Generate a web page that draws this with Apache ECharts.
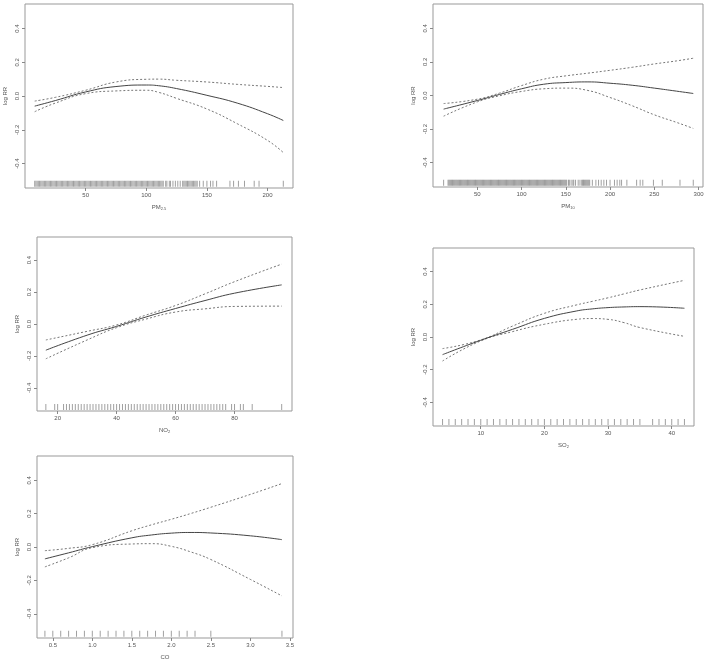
<!DOCTYPE html>
<html>
<head>
<meta charset="utf-8">
<script src="https://cdn.jsdelivr.net/npm/echarts@6/dist/echarts.min.js"></script>
<style>html,body{margin:0;padding:0;background:#fff}#c{width:708px;height:664px}</style>
</head>
<body>
<div id="c"></div>
<script>
// ---- Data ----
const yTicks = [-0.4, -0.2, 0.0, 0.2, 0.4];

const pm25X     = [8, 25, 50, 75, 100, 110, 125, 150, 175, 200, 213];
const pm25Fit   = [-0.060, -0.027, 0.024, 0.056, 0.065, 0.061, 0.044, 0.004, -0.042, -0.105, -0.145];
const pm25Upper = [-0.030, -0.008, 0.034, 0.083, 0.099, 0.100, 0.093, 0.083, 0.069, 0.057, 0.050];
const pm25Lower = [-0.093, -0.042, 0.014, 0.030, 0.034, 0.022, -0.014, -0.077, -0.164, -0.263, -0.335];
const pm25Rug = [8,9,10,11,12,13,14,15,16,17,18,19,20,21,22,23,24,25,26,27,28,29,30,31,32,33,34,35,36,37,38,39,40,
  41,42,43,44,45,46,47,48,49,50,51,52,53,54,55,56,57,58,59,60,61,62,63,64,65,66,67,68,69,70,71,72,73,74,75,
  76,77,78,79,80,81,82,83,84,85,86,87,88,89,90,91,92,93,94,95,96,97,98,99,100,101,102,103,104,105,106,107,
  108,109,110,111,112,113,114,116,117,119,120,122,124,126,128,130,131,132,133,134,135,136,137,138,139,140,
  141,142,144,147,150,153,155,158,169,172,176,181,189,193,213];
const pm25Ticks = [50, 100, 150, 200];

const pm10X     = [12, 50, 75, 100, 125, 150, 175, 200, 225, 250, 275, 294];
const pm10Fit   = [-0.081, -0.030, 0.006, 0.040, 0.067, 0.077, 0.081, 0.073, 0.061, 0.044, 0.026, 0.012];
const pm10Upper = [-0.048, -0.022, 0.014, 0.059, 0.097, 0.117, 0.133, 0.150, 0.168, 0.188, 0.206, 0.222];
const pm10Lower = [-0.123, -0.038, -0.002, 0.024, 0.040, 0.044, 0.030, -0.012, -0.061, -0.115, -0.160, -0.196];
const pm10Rug = [12,17,18,19,20,21,22,23,24,25,26,27,28,29,30,31,32,33,34,35,36,37,38,39,40,41,42,43,44,45,46,
  47,48,49,50,51,52,53,54,55,56,57,58,59,60,61,62,63,64,65,66,67,68,69,70,71,72,73,74,75,76,77,78,79,80,81,
  82,83,84,85,86,87,88,89,90,91,92,93,94,95,96,97,98,99,100,101,102,103,104,105,106,107,108,109,110,111,112,
  113,114,115,116,117,118,119,120,121,122,123,124,125,126,127,128,129,130,131,132,133,134,135,136,137,138,
  139,140,141,142,143,144,145,146,147,148,149,150,151,153,154,156,158,159,161,164,166,168,169,170,171,172,
  173,174,175,176,177,180,184,187,190,193,196,200,205,208,211,213,219,230,234,237,249,259,279,294];
const pm10Ticks = [50, 100, 150, 200, 250, 300];

const no2X     = [16, 30, 40, 50, 60, 70, 80, 96];
const no2Fit   = [-0.164, -0.070, -0.015, 0.044, 0.097, 0.147, 0.193, 0.245];
const no2Upper = [-0.100, -0.046, -0.006, 0.056, 0.116, 0.189, 0.265, 0.375];
const no2Lower = [-0.218, -0.100, -0.023, 0.031, 0.075, 0.095, 0.110, 0.112];
const no2Rug = [16,19,20,22,23,24,25,26,27,28,29,30,31,32,33,34,35,36,37,38,39,40,41,42,43,44,45,46,47,48,49,50,
  51,52,53,54,55,56,57,58,59,60,61,62,63,64,65,66,67,68,69,70,71,72,73,74,75,76,77,79,80,82,83,86,96];
const no2Ticks = [20, 40, 60, 80];

const so2X     = [4, 10, 15, 20, 25, 27.5, 30, 32.5, 35, 42];
const so2Fit   = [-0.108, -0.020, 0.047, 0.114, 0.159, 0.172, 0.180, 0.184, 0.186, 0.176];
const so2Upper = [-0.071, -0.018, 0.067, 0.145, 0.196, 0.218, 0.240, 0.264, 0.288, 0.347];
const so2Lower = [-0.147, -0.024, 0.033, 0.078, 0.108, 0.113, 0.108, 0.088, 0.058, 0.004];
const so2Rug = [4,5,6,7,8,9,10,11,12,13,14,15,16,17,18,19,20,21,22,23,24,25,26,27,28,29,30,31,32,33,34,35,
  37,38,39,40,41,42];
const so2Ticks = [10, 20, 30, 40];

const coX     = [0.4, 0.7, 1.0, 1.5, 1.75, 2.0, 2.25, 2.5, 3.0, 3.4];
const coFit   = [-0.071, -0.035, 0.002, 0.055, 0.072, 0.083, 0.087, 0.084, 0.067, 0.044];
const coUpper = [-0.022, -0.008, 0.014, 0.097, 0.133, 0.166, 0.201, 0.238, 0.315, 0.380];
const coLower = [-0.119, -0.065, -0.004, 0.018, 0.020, 0.004, -0.030, -0.075, -0.194, -0.293];
const coRug = [0.4,0.5,0.6,0.7,0.8,0.9,1.0,1.1,1.2,1.3,1.4,1.5,1.6,1.7,1.8,1.9,2.0,2.1,2.2,2.3,2.5,3.4];
const coTicks = [0.5, 1.0, 1.5, 2.0, 2.5, 3.0, 3.5];

// ---- Layout ----
const panels = [
  {x: pm25X, fit: pm25Fit, up: pm25Upper, lo: pm25Lower, rug: pm25Rug, ticks: pm25Ticks, dec: 0,
   name: 'PM{s|2.5}', grid: {left: 25, top: 4, width: 268, height: 184}, xmin: 0, xmax: 221},
  {x: pm10X, fit: pm10Fit, up: pm10Upper, lo: pm10Lower, rug: pm10Rug, ticks: pm10Ticks, dec: 0,
   name: 'PM{s|10}', grid: {left: 433, top: 4, width: 270, height: 183}, xmin: 0, xmax: 305},
  {x: no2X, fit: no2Fit, up: no2Upper, lo: no2Lower, rug: no2Rug, ticks: no2Ticks, dec: 0,
   name: 'NO{s|2}', grid: {left: 37, top: 237, width: 255, height: 174}, xmin: 13, xmax: 99.5},
  {x: so2X, fit: so2Fit, up: so2Upper, lo: so2Lower, rug: so2Rug, ticks: so2Ticks, dec: 0,
   name: 'SO{s|2}', grid: {left: 433, top: 248, width: 261, height: 178}, xmin: 2.5, xmax: 43.5},
  {x: coX, fit: coFit, up: coUpper, lo: coLower, rug: coRug, ticks: coTicks, dec: 1,
   name: 'CO', grid: {left: 37, top: 456, width: 256, height: 182}, xmin: 0.3, xmax: 3.54}
];

const txt = '#555';
const font = 'Liberation Sans, Arial, sans-serif';
const grids = [], xAxes = [], yAxes = [], series = [];

panels.forEach((p, i) => {
  grids.push(Object.assign({show: true, borderColor: '#999', borderWidth: 1, backgroundColor: '#fff'}, p.grid));
  xAxes.push({
    type: 'value', gridIndex: i, min: p.xmin, max: p.xmax,
    axisLine: {show: false, onZero: false},
    splitLine: {show: false},
    axisTick: {show: true, length: 3, lineStyle: {color: '#888'}, customValues: p.ticks},
    axisLabel: {show: true, customValues: p.ticks, fontSize: 6, color: txt, fontFamily: font, margin: 4,
      formatter: v => v.toFixed(p.dec)},
    name: p.name, nameLocation: 'middle', nameGap: 16,
    nameTextStyle: {fontSize: 6, color: txt, fontFamily: font,
      rich: {s: {fontSize: 4, color: txt, fontFamily: font, padding: [3, 0, 0, 0]}}}
  });
  yAxes.push({
    type: 'value', gridIndex: i, min: -0.545, max: 0.545,
    axisLine: {show: false, onZero: false},
    splitLine: {show: false},
    axisTick: {show: true, length: 3, lineStyle: {color: '#888'}, customValues: yTicks},
    axisLabel: {show: true, customValues: yTicks, rotate: 90, fontSize: 6, color: txt, fontFamily: font, margin: 5,
      formatter: v => v.toFixed(1)},
    name: 'log RR', nameLocation: 'middle', nameGap: 17,
    nameTextStyle: {fontSize: 6, color: txt, fontFamily: font}
  });
  const mk = (ys) => p.x.map((xv, k) => [xv, ys[k]]);
  const lineBase = {type: 'line', xAxisIndex: i, yAxisIndex: i, smooth: 0.5,
    symbol: 'none', silent: true};
  series.push(Object.assign({}, lineBase, {data: mk(p.fit), lineStyle: {color: '#444', width: 1}, z: 3}));
  series.push(Object.assign({}, lineBase, {data: mk(p.up), lineStyle: {color: '#777', width: 1, type: [2, 2]}, z: 2}));
  series.push(Object.assign({}, lineBase, {data: mk(p.lo), lineStyle: {color: '#777', width: 1, type: [2, 2]}, z: 2}));
  series.push({type: 'scatter', xAxisIndex: i, yAxisIndex: i, data: p.rug.map(v => [v, -0.52]),
    symbol: 'rect', symbolSize: [1, 6], itemStyle: {color: '#888'}, silent: true, z: 1});
});

const chart = echarts.init(document.getElementById('c'), null, {renderer: 'canvas'});
chart.setOption({
  animation: false,
  backgroundColor: '#fff',
  grid: grids, xAxis: xAxes, yAxis: yAxes, series: series
});
</script>
</body>
</html>
